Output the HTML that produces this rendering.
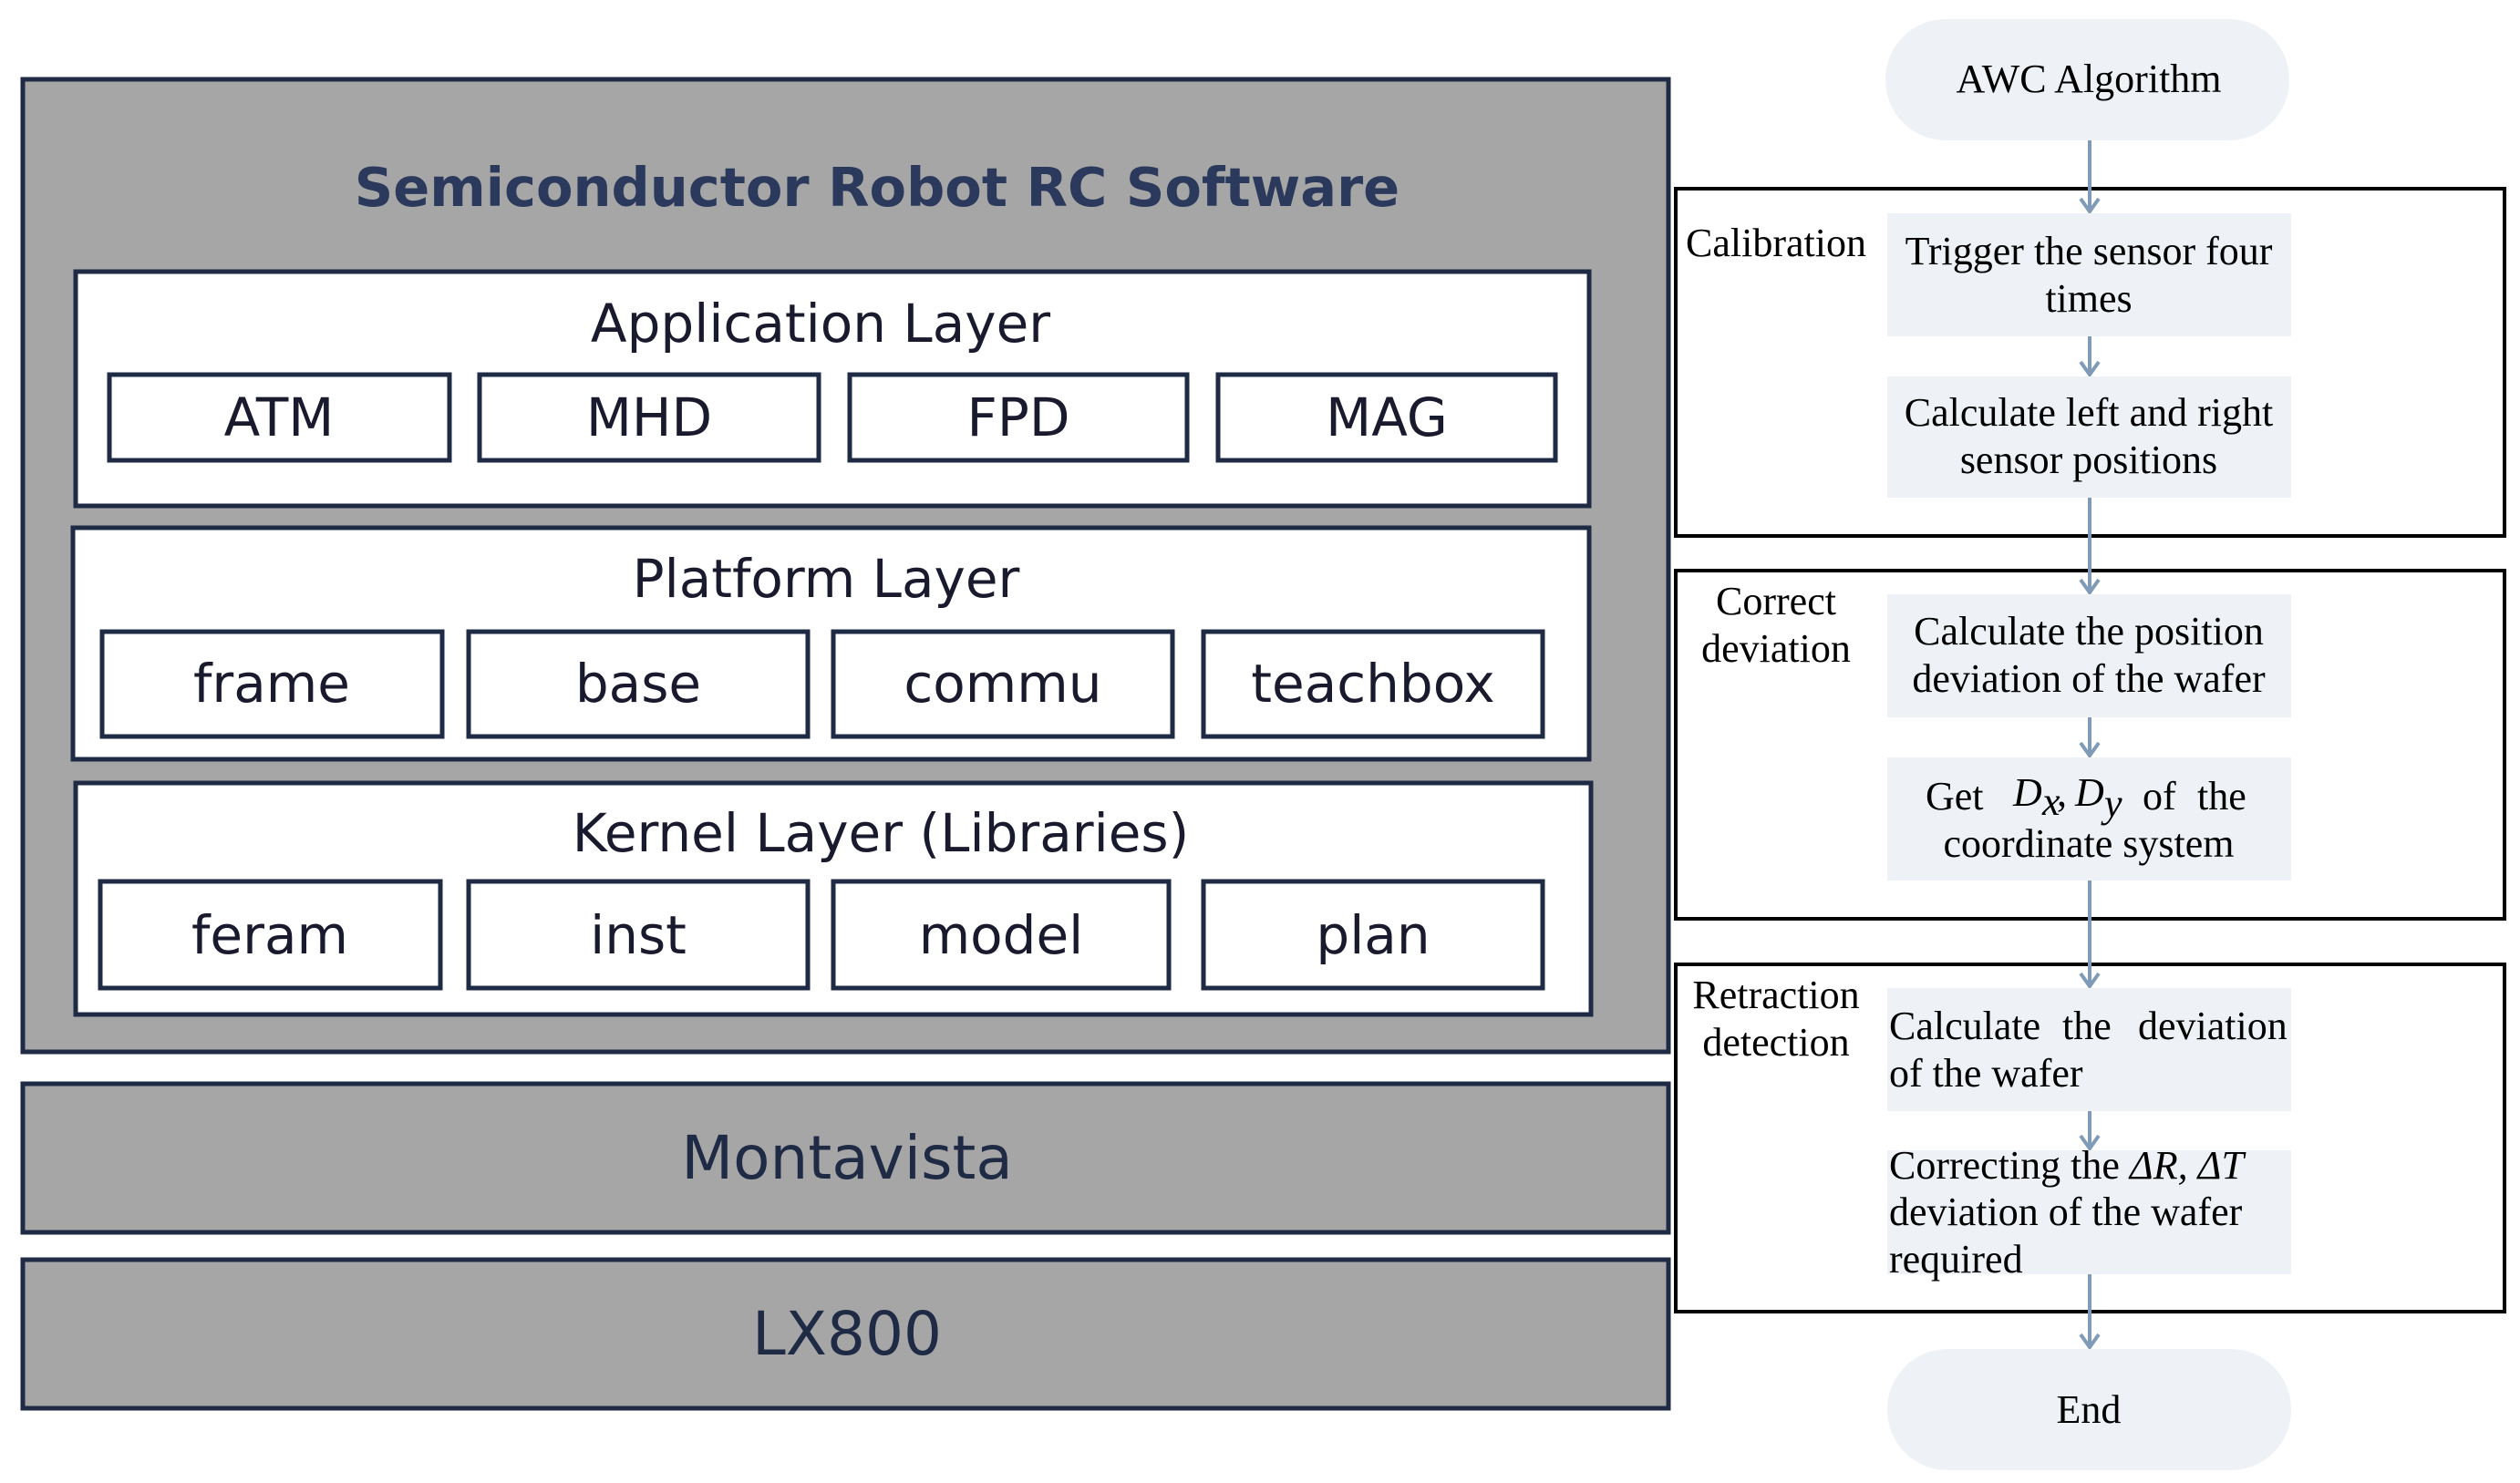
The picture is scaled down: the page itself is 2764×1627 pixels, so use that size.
<!DOCTYPE html>
<html><head><meta charset="utf-8"><style>
html,body{margin:0;padding:0;background:#fff}
svg{display:block}
.s{font-family:"DejaVu Sans","Liberation Sans",sans-serif}
.r{font-family:"Liberation Serif",serif;font-size:44px;fill:#000}
</style></head><body>
<svg width="2764" height="1627" viewBox="0 0 2764 1627" xmlns="http://www.w3.org/2000/svg">
<defs>
<marker id="b" markerWidth="24" markerHeight="24" refX="12" refY="22" orient="0" markerUnits="userSpaceOnUse" viewBox="0 0 24 24"><path d="M2,8 L12,22 L22,8" fill="none" stroke="#7f9bb8" stroke-width="4"/></marker></defs>
<!-- left panel -->
<rect x="25" y="87" width="1805" height="1067" fill="#a6a6a6" stroke="#1f2a44" stroke-width="5"/>
<text class="s" x="962" y="226" font-size="59" font-weight="bold" fill="#2b3a5c" text-anchor="middle">Semiconductor Robot RC Software</text>
<g fill="#fff" stroke="#1f2a44" stroke-width="5">
<rect x="83" y="298" width="1660" height="257"/>
<rect x="80" y="579" width="1663" height="254"/>
<rect x="83" y="859" width="1662" height="254"/>
<rect x="120" y="411" width="373" height="94"/><rect x="526" y="411" width="372" height="94"/><rect x="932" y="411" width="370" height="94"/><rect x="1336" y="411" width="370" height="94"/>
<rect x="112" y="693" width="373" height="115"/><rect x="514" y="693" width="372" height="115"/><rect x="914" y="693" width="372" height="115"/><rect x="1320" y="693" width="372" height="115"/>
<rect x="110" y="967" width="373" height="117"/><rect x="514" y="967" width="372" height="117"/><rect x="914" y="967" width="368" height="117"/><rect x="1320" y="967" width="372" height="117"/>
</g>
<g class="s" font-size="58" fill="#1a1a2e" text-anchor="middle">
<text x="900" y="375">Application Layer</text>
<text x="306" y="478">ATM</text><text x="712" y="478">MHD</text><text x="1117" y="478">FPD</text><text x="1521" y="478">MAG</text>
<text x="906" y="655">Platform Layer</text>
<text x="298" y="770">frame</text><text x="700" y="770">base</text><text x="1100" y="770">commu</text><text x="1506" y="770">teachbox</text>
<text x="966" y="934">Kernel Layer (Libraries)</text>
<text x="296" y="1046">feram</text><text x="700" y="1046">inst</text><text x="1098" y="1046">model</text><text x="1506" y="1046">plan</text>
</g>
<rect x="25" y="1189" width="1805" height="163" fill="#a6a6a6" stroke="#1f2a44" stroke-width="5"/>
<rect x="25" y="1382" width="1805" height="163" fill="#a6a6a6" stroke="#1f2a44" stroke-width="5"/>
<text class="s" x="929" y="1293" font-size="66" fill="#1f2a44" text-anchor="middle">Montavista</text>
<text class="s" x="929" y="1486" font-size="66" fill="#1f2a44" text-anchor="middle">LX800</text>
<!-- right flowchart -->
<g fill="none" stroke="#000" stroke-width="4">
<rect x="1838" y="207" width="909" height="381"/>
<rect x="1838" y="626" width="909" height="382"/>
<rect x="1838" y="1058" width="909" height="381"/>
</g>
<g fill="#eef2f7">
<rect x="2068" y="21" width="443" height="133" rx="66"/>
<rect x="2070" y="234" width="443" height="135"/>
<rect x="2070" y="413" width="443" height="133"/>
<rect x="2070" y="652" width="443" height="135"/>
<rect x="2070" y="831" width="443" height="135"/>
<rect x="2070" y="1084" width="443" height="135"/>
<rect x="2070" y="1262" width="443" height="136"/>
<rect x="2070" y="1480" width="443" height="133" rx="66"/>
</g>
<g stroke="#7f9bb8" stroke-width="4" marker-end="url(#b)">
<line x1="2292" y1="154" x2="2292" y2="232"/>
<line x1="2292" y1="369" x2="2292" y2="411"/>
<line x1="2292" y1="546" x2="2292" y2="650"/>
<line x1="2292" y1="787" x2="2292" y2="829"/>
<line x1="2292" y1="966" x2="2292" y2="1082"/>
<line x1="2292" y1="1219" x2="2292" y2="1260"/>
<line x1="2292" y1="1398" x2="2292" y2="1478"/>
</g>
<g class="r" text-anchor="middle">
<text x="2291" y="101">AWC Algorithm</text>
<text x="2291" y="290">Trigger the sensor four</text><text x="2291" y="342">times</text>
<text x="2291" y="467">Calculate left and right</text><text x="2291" y="519">sensor positions</text>
<text x="2291" y="707">Calculate the position</text><text x="2291" y="759">deviation of the wafer</text>
<text x="2291" y="940">coordinate system</text>
<text x="2291" y="1561">End</text>
<text x="1948" y="281">Calibration</text>
<text x="1948" y="674">Correct</text><text x="1948" y="726">deviation</text>
<text x="1948" y="1106">Retraction</text><text x="1948" y="1158">detection</text>
</g>
<text class="r" x="2112" y="888">Get</text>
<text class="r" x="2208" y="884" font-style="italic">D</text><text class="r" x="2240" y="894" font-size="26" font-style="italic">x</text>
<text class="r" x="2256" y="884">,</text><text class="r" x="2276" y="884" font-style="italic">D</text><text class="r" x="2308" y="896" font-size="26" font-style="italic">y</text>
<text class="r" x="2350" y="888">of</text><text class="r" x="2410" y="888">the</text>
<g class="r">
<text x="2072" y="1140">Calculate</text><text x="2262" y="1140">the</text><text x="2345" y="1140">deviation</text>
<text x="2072" y="1192">of the wafer</text>
<text x="2072" y="1293">Correcting the <tspan font-style="italic">ΔR, ΔT</tspan></text>
<text x="2072" y="1344">deviation  of the wafer</text>
<text x="2072" y="1396">required</text>
</g>
</svg>
</body></html>
